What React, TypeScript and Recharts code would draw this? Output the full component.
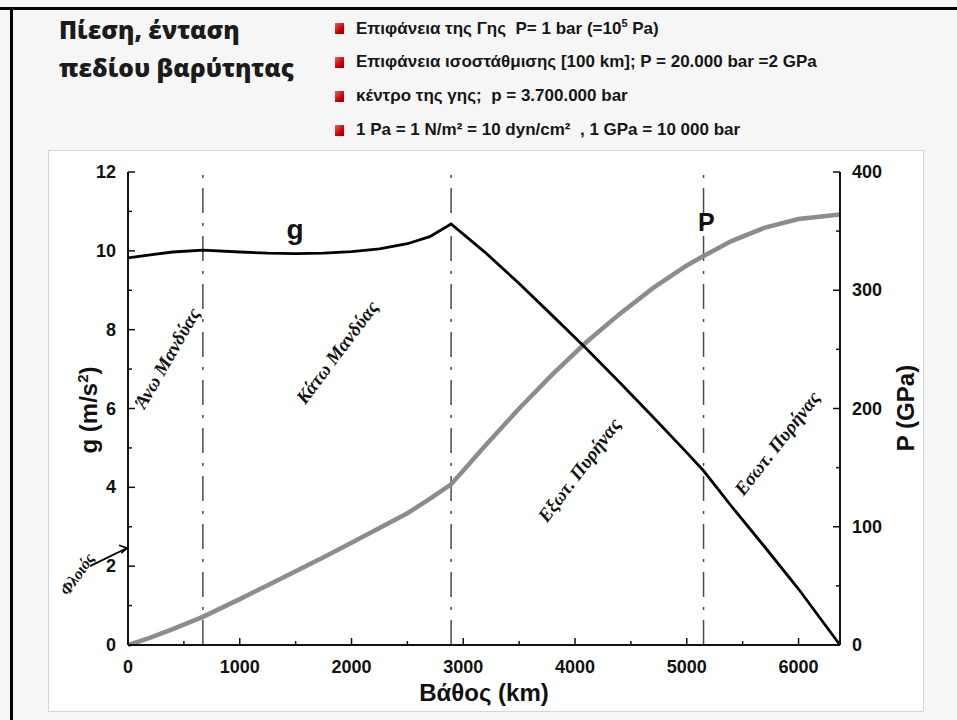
import React from "react";
import {
  LineChart,
  Line,
  XAxis,
  YAxis,
  ReferenceLine,
  ReferenceDot,
} from "recharts";

// depth below the surface (km) and the two profiles along it
const depthKm = [
  0, 200, 400, 670, 1000, 1250, 1500, 1750, 2000, 2250, 2500, 2700, 2891,
  3200, 3500, 3800, 4100, 4400, 4700, 5000, 5150, 5400, 5700, 6000, 6371,
];
const gravity = [
  9.82, 9.9, 9.97, 10.02, 9.97, 9.94, 9.93, 9.94, 9.98, 10.05, 10.18, 10.36,
  10.68, 9.95, 9.17, 8.35, 7.52, 6.66, 5.78, 4.88, 4.42, 3.52, 2.48, 1.42, 0,
];
const pressureGPa = [
  0, 6.3, 13.4, 23.8, 38.8, 50.5, 62.3, 74.3, 86.4, 98.9, 111.4, 123.5, 135.8,
  169, 200, 229, 256, 280, 302, 321, 329, 341.6, 353, 360.2, 364,
];

// discontinuities: 670 km, core-mantle boundary, inner core boundary
const boundaries = [670, 2891, 5150];

const depthTicks = [0, 500, 1000, 1500, 2000, 2500, 3000, 3500, 4000, 4500, 5000, 5500, 6000];
const gTicks = [0, 1, 2, 3, 4, 5, 6, 7, 8, 9, 10, 11, 12];
const pTicks = [0, 50, 100, 150, 200, 250, 300, 350, 400];

const layers = [
  { name: "Φλοιός", depth: -455, g: 1.8, angle: -55, size: 16 },
  { name: "Άνω Μανδύας", depth: 349, g: 7.28, angle: -60, size: 19 },
  { name: "Κάτω Μανδύας", depth: 1871, g: 7.43, angle: -53, size: 19 },
  { name: "Εξωτ. Πυρήνας", depth: 4037, g: 4.44, angle: -53, size: 19 },
  { name: "Εσωτ. Πυρήνας", depth: 5809, g: 5.12, angle: -52, size: 19 },
];

const notes = [
  <>Επιφάνεια της Γης&nbsp; P= 1 bar (=10<sup style={{ fontSize: 11 }}>5</sup> Pa)</>,
  <>Επιφάνεια ισοστάθμισης [100 km]; P = 20.000 bar =2 GPa</>,
  <>κέντρο της γης;&nbsp; p = 3.700.000 bar</>,
  <>1 Pa = 1 N/m² = 10 dyn/cm²&nbsp; , 1 GPa = 10 000 bar</>,
];

const data = depthKm.map((d, i) => ({ depth: d, g: gravity[i], p: pressureGPa[i] }));

const SANS = "'Liberation Sans', Arial, Helvetica, sans-serif";
const SERIF = "'Liberation Serif', 'Times New Roman', serif";
const INK = "#111";

function LeftTick({ x, y, payload }: any) {
  const major = payload.value % 2 === 0;
  return (
    <g>
      <line x1={x} x2={x + (major ? 7 : 4)} y1={y} y2={y} stroke={INK} strokeWidth={1.5} />
      {major && (
        <text x={x - 12} y={y} textAnchor="end" dominantBaseline="central"
          fontFamily={SANS} fontWeight="bold" fontSize={18} fill={INK}>
          {payload.value}
        </text>
      )}
    </g>
  );
}

function RightTick({ x, y, payload }: any) {
  const major = payload.value % 100 === 0;
  return (
    <g>
      <line x1={x} x2={x - (major ? 7 : 4)} y1={y} y2={y} stroke={INK} strokeWidth={1.5} />
      {major && (
        <text x={x + 12} y={y} textAnchor="start" dominantBaseline="central"
          fontFamily={SANS} fontWeight="bold" fontSize={18} fill={INK}>
          {payload.value}
        </text>
      )}
    </g>
  );
}

function BottomTick({ x, y, payload }: any) {
  const major = payload.value % 1000 === 0;
  return (
    <g>
      <line x1={x} x2={x} y1={y} y2={y - (major ? 7 : 4)} stroke={INK} strokeWidth={1.5} />
      {major && (
        <text x={x} y={y + 22} textAnchor="middle" dominantBaseline="central"
          fontFamily={SANS} fontWeight="bold" fontSize={18} fill={INK}>
          {payload.value}
        </text>
      )}
    </g>
  );
}

function TopTick({ x, y, payload }: any) {
  const major = payload.value % 1000 === 0;
  return <line x1={x} x2={x} y1={y} y2={y + (major ? 7 : 4)} stroke={INK} strokeWidth={1.5} />;
}

function rotatedText(text: string, angle: number, size: number, italic: boolean) {
  return ({ viewBox }: any) => {
    const cx = viewBox.x + viewBox.width / 2;
    const cy = viewBox.y + viewBox.height / 2;
    return (
      <text x={cx} y={cy} textAnchor="middle" dominantBaseline="central"
        transform={`rotate(${angle} ${cx} ${cy})`}
        fontFamily={italic ? SERIF : SANS} fontStyle={italic ? "italic" : "normal"}
        fontWeight="bold" fontSize={size} fill={INK}>
        {text}
      </text>
    );
  };
}

const axisTitle = {
  position: "absolute" as const,
  fontFamily: SANS,
  fontWeight: "bold",
  fontSize: 24,
  color: INK,
  whiteSpace: "nowrap" as const,
};

export default function App() {
  return (
    <div style={{ position: "absolute", left: 0, top: 0, width: 957, height: 720, background: "#f6f6f6", overflow: "hidden" }}>
      <div style={{ position: "absolute", left: 0, top: 7, width: 957, height: 3, background: "#000" }} />
      <div style={{ position: "absolute", left: 10, top: 7, width: 3, height: 713, background: "#000" }} />

      <div style={{ position: "absolute", left: 59, top: 11, fontFamily: "'Open Sans', sans-serif", fontWeight: 800, fontSize: 24.5, lineHeight: "38px", color: "#1b1b1b" }}>
        Πίεση, ένταση
        <br />
        πεδίου βαρύτητας
      </div>

      {notes.map((n, i) => (
        <div key={i} style={{ position: "absolute", left: 335, top: 17 + i * 34, height: 22, display: "flex", alignItems: "center" }}>
          <span style={{ width: 9, height: 11, background: "linear-gradient(135deg, #ff5a4a, #c8000a 60%, #8a0008)", marginRight: 12 }} />
          <span style={{ fontFamily: "'Liberation Sans Narrow', 'Arial Narrow', sans-serif", fontWeight: "bold", fontSize: 17, color: "#161616", whiteSpace: "nowrap" }}>
            {n}
          </span>
        </div>
      ))}

      <div style={{ position: "absolute", left: 48, top: 150, width: 874, height: 560, background: "#fff", border: "1.5px solid #c9d7ea" }} />

      <div style={{ position: "absolute", left: 0, top: 0 }}>
        <LineChart width={957} height={720} data={data} margin={{ top: 172, right: 57, bottom: 35, left: 68 }}>
          <XAxis xAxisId="x" dataKey="depth" type="number" domain={[0, 6371]} ticks={depthTicks}
            allowDataOverflow interval={0} height={40} tickSize={0} tickMargin={0}
            axisLine={{ stroke: INK, strokeWidth: 2 }} tickLine={false} tick={<BottomTick />} />
          <XAxis xAxisId="top" orientation="top" dataKey="depth" type="number" domain={[0, 6371]} ticks={depthTicks}
            allowDataOverflow interval={0} height={0} tickSize={0} tickMargin={0}
            axisLine={{ stroke: INK, strokeWidth: 2 }} tickLine={false} tick={<TopTick />} />
          <YAxis yAxisId="g" domain={[0, 12]} ticks={gTicks} interval={0} width={60} tickSize={0} tickMargin={0}
            axisLine={{ stroke: INK, strokeWidth: 2 }} tickLine={false} tick={<LeftTick />} />
          <YAxis yAxisId="p" orientation="right" domain={[0, 400]} ticks={pTicks} interval={0} width={60}
            tickSize={0} tickMargin={0} axisLine={{ stroke: INK, strokeWidth: 2 }} tickLine={false} tick={<RightTick />} />

          {boundaries.map((b) => (
            <ReferenceLine key={b} xAxisId="x" yAxisId="g" x={b} stroke="#4a4a4a" strokeWidth={1.5}
              strokeDasharray="25 10 3 10" />
          ))}

          <Line xAxisId="x" yAxisId="p" dataKey="p" type="linear" stroke="#8c8c8c" strokeWidth={4.5}
            dot={false} isAnimationActive={false} />
          <Line xAxisId="x" yAxisId="g" dataKey="g" type="linear" stroke="#000" strokeWidth={2.8}
            dot={false} isAnimationActive={false} />

          {/* pointer from the crust label to the axis, with a small arrow head */}
          <ReferenceLine xAxisId="x" yAxisId="g" ifOverflow="visible" stroke="#000" strokeWidth={1.8}
            segment={[{ x: -340, y: 2.0 }, { x: -8, y: 2.46 }]} />
          <ReferenceLine xAxisId="x" yAxisId="g" ifOverflow="visible" stroke="#000" strokeWidth={1.6}
            segment={[{ x: -80, y: 2.53 }, { x: -8, y: 2.46 }]} />
          <ReferenceLine xAxisId="x" yAxisId="g" ifOverflow="visible" stroke="#000" strokeWidth={1.6}
            segment={[{ x: -60, y: 2.33 }, { x: -8, y: 2.46 }]} />

          {layers.map((l) => (
            <ReferenceDot key={l.name} xAxisId="x" yAxisId="g" x={l.depth} y={l.g} r={0} ifOverflow="visible"
              fill="none" stroke="none" label={{ content: rotatedText(l.name, l.angle, l.size, true) }} />
          ))}
          <ReferenceDot xAxisId="x" yAxisId="g" x={1495} y={10.55} r={0} fill="none" stroke="none"
            label={{ content: rotatedText("g", 0, 28, false) }} />
          <ReferenceDot xAxisId="x" yAxisId="g" x={5174} y={10.73} r={0} fill="none" stroke="none"
            label={{ content: rotatedText("P", 0, 25, false) }} />
        </LineChart>
      </div>

      <div style={{ ...axisTitle, left: 88, top: 410, transform: "translate(-50%, -50%) rotate(-90deg)" }}>
        g (m/s<sup style={{ fontSize: 15 }}>2</sup>)
      </div>
      <div style={{ ...axisTitle, left: 906, top: 408, transform: "translate(-50%, -50%) rotate(-90deg)" }}>
        P (GPa)
      </div>
      <div style={{ ...axisTitle, left: 484, top: 693, transform: "translate(-50%, -50%)" }}>
        Βάθος (km)
      </div>
    </div>
  );
}
